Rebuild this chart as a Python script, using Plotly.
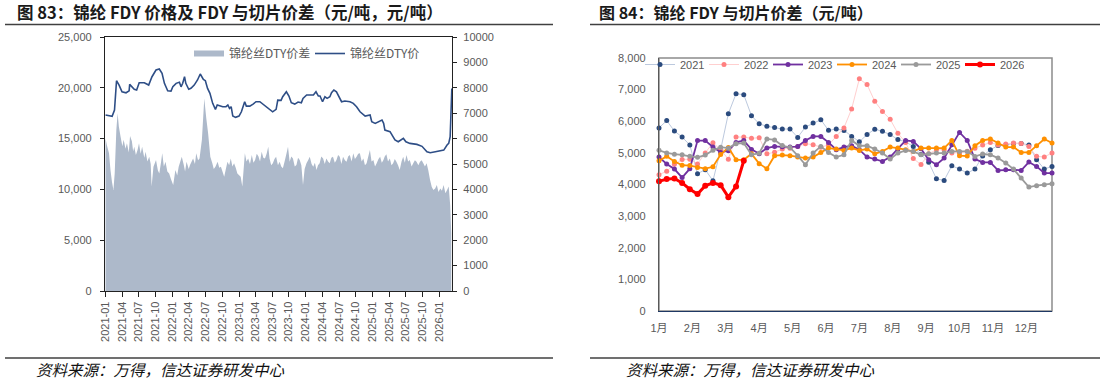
import plotly.graph_objects as go

# ---------------- Left chart data (图83) ----------------
spread_dates = [
    "2021-01-01", "2021-01-08", "2021-01-20", "2021-01-28", "2021-02-05", "2021-02-13", "2021-02-20",
    "2021-03-01", "2021-03-08", "2021-03-15", "2021-03-24", "2021-04-03", "2021-04-10", "2021-04-20",
    "2021-04-28", "2021-05-08", "2021-05-15", "2021-05-25", "2021-06-01", "2021-06-07", "2021-06-16",
    "2021-06-25", "2021-07-03", "2021-07-12", "2021-07-20", "2021-08-01", "2021-08-08", "2021-08-18",
    "2021-08-28", "2021-09-05", "2021-09-10", "2021-09-20", "2021-10-04", "2021-10-14", "2021-10-22",
    "2021-11-01", "2021-11-07", "2021-11-16", "2021-11-25", "2021-12-05", "2021-12-15", "2021-12-25",
    "2022-01-06", "2022-01-18", "2022-01-28", "2022-02-05", "2022-02-14", "2022-02-22", "2022-03-05",
    "2022-03-12", "2022-03-20", "2022-04-01", "2022-04-08", "2022-04-17", "2022-04-25", "2022-05-05",
    "2022-05-12", "2022-05-22", "2022-05-30", "2022-06-12", "2022-06-25", "2022-07-06", "2022-07-16",
    "2022-07-28", "2022-08-08", "2022-08-16", "2022-08-25", "2022-09-06", "2022-09-15", "2022-09-24",
    "2022-10-12", "2022-10-21", "2022-10-30", "2022-11-08", "2022-11-17", "2022-11-26", "2022-12-05",
    "2022-12-14", "2022-12-23", "2023-01-10", "2023-01-19", "2023-02-02", "2023-02-11", "2023-02-20",
    "2023-03-02", "2023-03-12", "2023-03-21", "2023-03-30", "2023-04-08", "2023-04-17", "2023-04-26",
    "2023-05-05", "2023-05-14", "2023-05-23", "2023-06-01", "2023-06-10", "2023-06-17", "2023-06-26",
    "2023-07-05", "2023-07-14", "2023-07-23", "2023-08-02", "2023-08-11", "2023-08-20", "2023-08-29",
    "2023-09-09", "2023-09-18", "2023-09-26", "2023-10-05", "2023-10-14", "2023-10-23", "2023-11-02",
    "2023-11-11", "2023-11-20", "2023-11-29", "2023-12-08", "2023-12-17", "2023-12-26", "2024-01-05",
    "2024-01-14", "2024-01-23", "2024-02-02", "2024-02-11", "2024-02-20", "2024-02-29", "2024-03-08",
    "2024-03-17", "2024-03-26", "2024-04-05", "2024-04-14", "2024-04-23", "2024-05-02", "2024-05-11",
    "2024-05-20", "2024-05-29", "2024-06-08", "2024-06-17", "2024-06-26", "2024-07-05", "2024-07-14",
    "2024-07-23", "2024-08-02", "2024-08-11", "2024-08-20", "2024-08-29", "2024-09-08", "2024-09-17",
    "2024-09-26", "2024-10-05", "2024-10-14", "2024-10-23", "2024-11-02", "2024-11-11", "2024-11-20",
    "2024-11-29", "2024-12-08", "2024-12-17", "2024-12-26", "2025-01-05", "2025-01-14", "2025-01-23",
    "2025-02-02", "2025-02-11", "2025-02-20", "2025-03-01", "2025-03-08", "2025-03-17", "2025-03-26",
    "2025-04-05", "2025-04-14", "2025-04-23", "2025-05-02", "2025-05-11", "2025-05-20", "2025-05-29",
    "2025-06-08", "2025-06-17", "2025-06-26", "2025-07-05", "2025-07-14", "2025-07-23", "2025-08-02",
    "2025-08-11", "2025-08-20", "2025-08-29", "2025-09-08", "2025-09-17", "2025-09-26", "2025-10-05",
    "2025-10-14", "2025-10-23", "2025-11-01", "2025-11-11", "2025-11-20", "2025-11-29", "2025-12-09",
    "2025-12-18", "2025-12-27", "2026-01-06", "2026-01-15", "2026-01-24", "2026-02-03", "2026-02-12",
    "2026-02-21", "2026-03-01", "2026-03-07",
]
spread_values = [
    6000, 5750, 5420, 4760, 4300, 3980, 4630,
    6340, 7000, 6470, 6080, 5700, 5950, 5600,
    5820, 5450, 6100, 5900, 5500, 5680, 5350,
    5550, 5820, 5400, 5680, 5250, 5480, 5100,
    5290, 5000, 4110, 4890, 5160, 4750, 4630,
    5100, 5420, 4900, 5090, 4700, 4630, 4400,
    4170, 4760, 4550, 4890, 5100, 5290, 4960,
    4700, 5090, 4800, 4960, 5100, 5220, 5000,
    5420, 5150, 5220, 5950, 7580, 6800, 6210,
    5290, 5030, 4800, 4890, 5090, 4850, 4890,
    4500, 4800, 5090, 4950, 5220, 4900, 5030,
    4850, 4630, 4500, 4110, 5420, 5100, 5220,
    5000, 5350, 5050, 5160, 5400, 5310, 5100,
    5480, 5250, 5220, 5400, 5680, 5220, 4950,
    5030, 5200, 5290, 4950, 5090, 4900, 4830,
    5150, 5420, 5680, 5090, 5300, 5220, 4900,
    4960, 5250, 5160, 4950, 4170, 4800, 5030,
    5150, 5290, 5000, 4890, 5050, 4760, 4950,
    5030, 5300, 5220, 5000, 5220, 5100, 5030,
    5250, 5290, 5050, 5160, 5350, 5290, 5000,
    5290, 5150, 5090, 5300, 5350, 5100, 5420,
    5200, 5290, 5400, 5420, 5100, 5220, 4950,
    5030, 5300, 5550, 5100, 5160, 4900, 5030,
    5200, 5290, 5050, 5160, 5300, 5380, 5100,
    5220, 4950, 5030, 5200, 5090, 4950, 4760,
    5100, 5290, 5050, 5350, 5100, 5160, 4900,
    5030, 5150, 5090, 4950, 5090, 5150, 5030,
    4900, 5030, 4760, 4370, 4100, 3980, 4040,
    4170, 3900, 4040, 3950, 4170, 3850, 3980,
    4110, 3390, 2270,
]

price_dates = [
    "2021-01-01", "2021-02-06", "2021-02-19", "2021-03-02", "2021-03-16", "2021-04-01", "2021-04-23",
    "2021-05-10", "2021-05-13", "2021-06-07", "2021-06-20", "2021-07-04", "2021-08-01", "2021-08-25",
    "2021-09-12", "2021-10-04", "2021-10-22", "2021-11-06", "2021-11-19", "2021-12-07", "2021-12-25",
    "2022-01-04", "2022-01-22", "2022-02-09", "2022-02-18", "2022-02-27", "2022-03-09", "2022-03-16",
    "2022-04-01", "2022-04-13", "2022-05-01", "2022-05-19", "2022-06-03", "2022-06-20", "2022-07-01",
    "2022-07-13", "2022-07-26", "2022-08-10", "2022-08-25", "2022-09-04", "2022-10-04", "2022-10-22",
    "2022-11-01", "2022-11-10", "2022-11-19", "2022-11-28", "2022-12-13", "2023-01-01", "2023-01-14",
    "2023-02-01", "2023-02-10", "2023-03-01", "2023-03-19", "2023-04-04", "2023-04-25", "2023-05-10",
    "2023-05-28", "2023-06-15", "2023-07-04", "2023-07-23", "2023-08-01", "2023-08-19", "2023-08-28",
    "2023-09-17", "2023-10-01", "2023-10-14", "2023-11-02", "2023-11-20", "2023-12-08", "2023-12-17",
    "2024-01-06", "2024-02-12", "2024-02-26", "2024-03-10", "2024-03-19", "2024-04-02", "2024-04-15",
    "2024-04-27", "2024-05-12", "2024-05-21", "2024-06-03", "2024-06-17", "2024-07-06", "2024-07-15",
    "2024-08-02", "2024-08-30", "2024-09-17", "2024-10-05", "2024-10-24", "2024-11-21", "2024-12-18",
    "2024-12-27", "2025-01-15", "2025-02-03", "2025-02-21", "2025-03-02", "2025-03-09", "2025-04-06",
    "2025-05-03", "2025-05-21", "2025-06-18", "2025-07-02", "2025-07-24", "2025-08-31", "2025-09-28",
    "2025-10-25", "2025-11-12", "2025-12-10", "2026-01-06", "2026-01-25", "2026-02-12", "2026-02-21",
    "2026-03-01", "2026-03-08", "2026-03-10",
]
price_values = [
    17320, 17200, 17810, 20700, 20270, 19610, 19510,
    19700, 20340, 19850, 19780, 20500, 20500, 20270,
    21090, 21750, 21850, 21420, 20440, 19710, 19680,
    20100, 20440, 20540, 20100, 20440, 21090, 20440,
    19850, 19950, 20270, 20770, 21360, 20830, 20700,
    19940, 19450, 18470, 17880, 18310, 18140, 18140,
    18310, 17970, 18140, 17220, 17090, 17220, 17640,
    18630, 18200, 18200, 18400, 18630, 18630, 18400,
    18140, 17880, 17640, 17880, 18790, 18760, 19120,
    19610, 19190, 18530, 18400, 18600, 18530, 18960,
    19290, 19290, 19610, 19190, 19190, 18630, 19120,
    18960, 19120, 19510, 19780, 19610, 18960, 18630,
    18700, 18630, 18470, 18140, 17640, 17220, 17320,
    16660, 16500, 16660, 16830, 16500, 15840, 15680,
    14860, 14690, 15020, 14690, 14530, 14430, 14240,
    13710, 13610, 13710, 13800, 13870, 14370, 14530,
    15180, 19120, 19940,
]

# ---------------- Right chart data (图84) ----------------
week_index = list(range(52))
month_labels = ["1月", "2月", "3月", "4月", "5月", "6月", "7月", "8月", "9月", "10月", "11月", "12月"]
years = ["2021", "2022", "2023", "2024", "2025", "2026"]

y2021 = [5790, 6020, 5690, 5500, 5250, 4340, 4470, 4120, 5100, 6240, 6870, 6840, 6175, 5920, 5840, 5805,
         5754, 5754, 5490, 5817, 5943, 6048, 5712, 5754, 5710, 5520, 5350, 5580, 5750, 5680, 5580, 5420,
         5350, 5200, 4950, 4700, 4180, 4130, 4590, 4490, 4360, 4490, 4900, 5100, 5230, 5250, 5300, 5300,
         5250, 4780, 4490, 4570]
y2022 = [4310, 4420, 4640, 4790, 4800, 4650, 5000, 5320, 5100, 4800, 5500, 5500, 5460, 5480, 4970, 5020,
         5120, 5150, 5200, 5290, 5260, 5180, 5250, 5520, 5790, 6390, 7340, 7160, 6630, 6310, 6060, 5620,
         5330, 4820, 4630, 4970, 5100, 5100, 5000, 5000, 5050, 5150, 5250, 5330, 5250, 5280, 5310, 5300,
         5200, 4890, 4870, 5000]
y2023 = [4868, 4650, 4489, 4220, 4500, 5390, 5390, 5184, 5015, 5070, 5331, 5390, 5110, 4973, 5153, 5205,
         5190, 5184, 5200, 5394, 5520, 5520, 5331, 5100, 5184, 5226, 5100, 4868, 4805, 4731, 4868, 5121,
         5394, 5362, 5130, 4783, 4625, 4836, 5258, 5647, 5394, 4805, 4699, 4699, 4446, 4467, 4467, 4446,
         4710, 4573, 4362, 4362]
y2024 = [4750, 4890, 4730, 4610, 4600, 4540, 4500, 4560, 4950, 5170, 4780, 4780, 4970, 4660, 4500, 4910,
         4930, 4910, 4868, 4836, 4868, 5015, 5153, 5121, 5079, 5153, 5079, 5121, 4973, 5047, 5184, 5153,
         5100, 5047, 5153, 5153, 5153, 5153, 5394, 4910, 4900, 5226, 5394, 5437, 5311, 5184, 5184, 5015,
         5015, 5226, 5437, 5311]
y2025 = [5080, 5000, 4960, 4940, 4890, 4860, 4930, 5080, 5180, 5150, 5290, 5310, 4940, 4990, 5440, 5410,
         5230, 5170, 4910, 4625, 4994, 5205, 5015, 4868, 4941, 5394, 5226, 5226, 5121, 4994, 4805, 4994,
         5079, 5047, 4941, 4973, 4994, 4994, 5047, 5047, 5047, 4889, 4963, 4941, 4836, 4678, 4489, 4204,
         3920, 3961, 3993, 4025]
y2026 = [4100, 4170, 4190, 4050, 3850, 3700, 3960, 4050, 3980, 3600, 3940, 4750]

W, H = 1106, 382
def px(x):
    return x / W
def py(y):
    return 1 - y / H

TICK_FONT = dict(family="Liberation Sans, Noto Sans CJK SC", size=11, color="#595959")
CJK = "Noto Sans CJK SC"

fig = go.Figure()

# Left chart traces
fig.add_trace(go.Scatter(
    x=spread_dates, y=spread_values, name="锦纶丝DTY价差", mode="none",
    fill="tozeroy", fillcolor="#ADB9CA", xaxis="x", yaxis="y", legend="legend",
))
fig.add_trace(go.Scatter(
    x=price_dates, y=price_values, name="锦纶丝DTY价", mode="lines",
    line=dict(color="#2E4E86", width=1.6), xaxis="x", yaxis="y2", legend="legend",
))

# Right chart traces
styles = {
    "2021": dict(line=dict(color="#BCC9DE", width=1), marker=dict(color="#2B4B7E", size=5)),
    "2022": dict(line=dict(color="#FFCFCF", width=1), marker=dict(color="#FF8080", size=5)),
    "2023": dict(line=dict(color="#7030A0", width=1.8), marker=dict(color="#7030A0", size=5)),
    "2024": dict(line=dict(color="#FF9000", width=1.8), marker=dict(color="#FF9000", size=5)),
    "2025": dict(line=dict(color="#9A9A9A", width=1.8), marker=dict(color="#9A9A9A", size=5)),
    "2026": dict(line=dict(color="#FF0000", width=3), marker=dict(color="#FF0000", size=6)),
}
series = [y2021, y2022, y2023, y2024, y2025, y2026]
for name, vals in zip(years, series):
    st = styles[name]
    fig.add_trace(go.Scatter(
        x=week_index[:len(vals)], y=vals, name=name, mode="lines+markers",
        line=st["line"], marker=st["marker"], xaxis="x2", yaxis="y3",
        legend="legend2", cliponaxis=False,
    ))

month_ticks = [i * 52 / 12 for i in range(12)]

fig.update_layout(
    width=W, height=H, margin=dict(l=0, r=0, t=0, b=0, autoexpand=False),
    paper_bgcolor="white", plot_bgcolor="rgba(0,0,0,0)",
    font=dict(family="Liberation Sans, Noto Sans CJK SC", color="#595959"),
    xaxis=dict(
        domain=[px(105), px(452)], anchor="y", type="date", automargin=False,
        range=["2020-12-29", "2026-03-11"], tick0="2021-01-01", dtick="M3",
        tickformat="%Y-%m", tickangle=-90, ticks="outside", ticklen=5, tickcolor="#222",
        showline=True, linecolor="#222", linewidth=1.3, mirror=True, showgrid=False,
        tickfont=TICK_FONT, zeroline=False,
    ),
    yaxis=dict(
        domain=[py(291), py(37)], anchor="x", side="right", range=[0, 10000], dtick=1000,
        tickformat="d", ticks="outside", ticklen=4, tickcolor="#222", showline=True,
        linecolor="#222", linewidth=1.3, showgrid=False, zeroline=False, tickfont=TICK_FONT,
        ticklabelstandoff=4, automargin=False,
    ),
    yaxis2=dict(
        overlaying="y", side="left", anchor="x", range=[0, 25000], dtick=5000,
        tickformat=",d", ticks="outside", ticklen=4, tickcolor="#222", showline=True,
        linecolor="#222", linewidth=1.3, showgrid=False, zeroline=False, tickfont=TICK_FONT,
        ticklabelstandoff=6, automargin=False,
    ),
    xaxis2=dict(
        domain=[px(659), px(1052)], anchor="y3", range=[0, 51], tickvals=month_ticks,
        ticktext=month_labels, ticks="", showline=True, linecolor="#1F3864", linewidth=1.3,
        showgrid=False, zeroline=False, tickfont=TICK_FONT, ticklabelstandoff=7, automargin=False,
    ),
    yaxis3=dict(
        domain=[py(311), py(58)], anchor="x2", range=[0, 8000], dtick=1000, tickformat=",d",
        ticks="", showline=True, linecolor="#595959", linewidth=1.3, showgrid=False,
        zeroline=False, tickfont=TICK_FONT, ticklabelstandoff=10, automargin=False,
    ),
    legend=dict(
        orientation="h", x=px(189), y=py(39), xanchor="left", yanchor="top",
        bgcolor="rgba(0,0,0,0)", font=dict(family=CJK + ", Liberation Sans", size=12, color="#595959"),
        entrywidth=76, entrywidthmode="pixels", itemclick=False, itemdoubleclick=False,
    ),
    legend2=dict(
        orientation="h", x=px(640), y=py(50), xanchor="left", yanchor="top",
        bgcolor="rgba(0,0,0,0)", font=dict(family="Liberation Sans", size=11, color="#595959"),
        entrywidth=19, entrywidthmode="pixels", itemclick=False, itemdoubleclick=False,
    ),
    showlegend=True,
)

shapes = [
    dict(type="rect", xref="x2 domain", yref="y3 domain", x0=0, x1=1, y0=0, y1=1,
         line=dict(color="#8C8C8C", width=1.5), layer="below"),
    dict(type="line", xref="paper", yref="paper", x0=px(5), x1=px(553), y0=py(24.5), y1=py(24.5),
         line=dict(color="#404040", width=1.5)),
    dict(type="line", xref="paper", yref="paper", x0=px(590), x1=px(1100), y0=py(24.5), y1=py(24.5),
         line=dict(color="#404040", width=1.5)),
    dict(type="line", xref="paper", yref="paper", x0=px(5), x1=px(553), y0=py(358), y1=py(358),
         line=dict(color="#404040", width=1.5)),
    dict(type="line", xref="paper", yref="paper", x0=px(590), x1=px(1100), y0=py(358), y1=py(358),
         line=dict(color="#404040", width=1.5)),
]
fig.update_layout(shapes=shapes)

annotations = [
    dict(text="<b>图 83：锦纶 FDY 价格及 FDY 与切片价差（元/吨，元/吨）</b>", x=px(15), y=py(12),
         xref="paper", yref="paper", xanchor="left", yanchor="middle", showarrow=False,
         font=dict(family=CJK, size=16.5, color="#1A1A1A")),
    dict(text="<b>图 84：锦纶 FDY 与切片价差（元/吨）</b>", x=px(597), y=py(12),
         xref="paper", yref="paper", xanchor="left", yanchor="middle", showarrow=False,
         font=dict(family=CJK, size=16, color="#1A1A1A")),
    dict(text="<i>资料来源：万得，信达证券研发中心</i>", x=px(34), y=py(369),
         xref="paper", yref="paper", xanchor="left", yanchor="middle", showarrow=False,
         font=dict(family=CJK, size=15.5, color="#111111")),
    dict(text="<i>资料来源：万得，信达证券研发中心</i>", x=px(624), y=py(369),
         xref="paper", yref="paper", xanchor="left", yanchor="middle", showarrow=False,
         font=dict(family=CJK, size=15.5, color="#111111")),
]
fig.update_layout(annotations=annotations)

fig.write_html(
    "out.html",
    config={"displayModeBar": False},
    post_script="document.body.style.margin='0';document.body.style.overflow='hidden';",
)
